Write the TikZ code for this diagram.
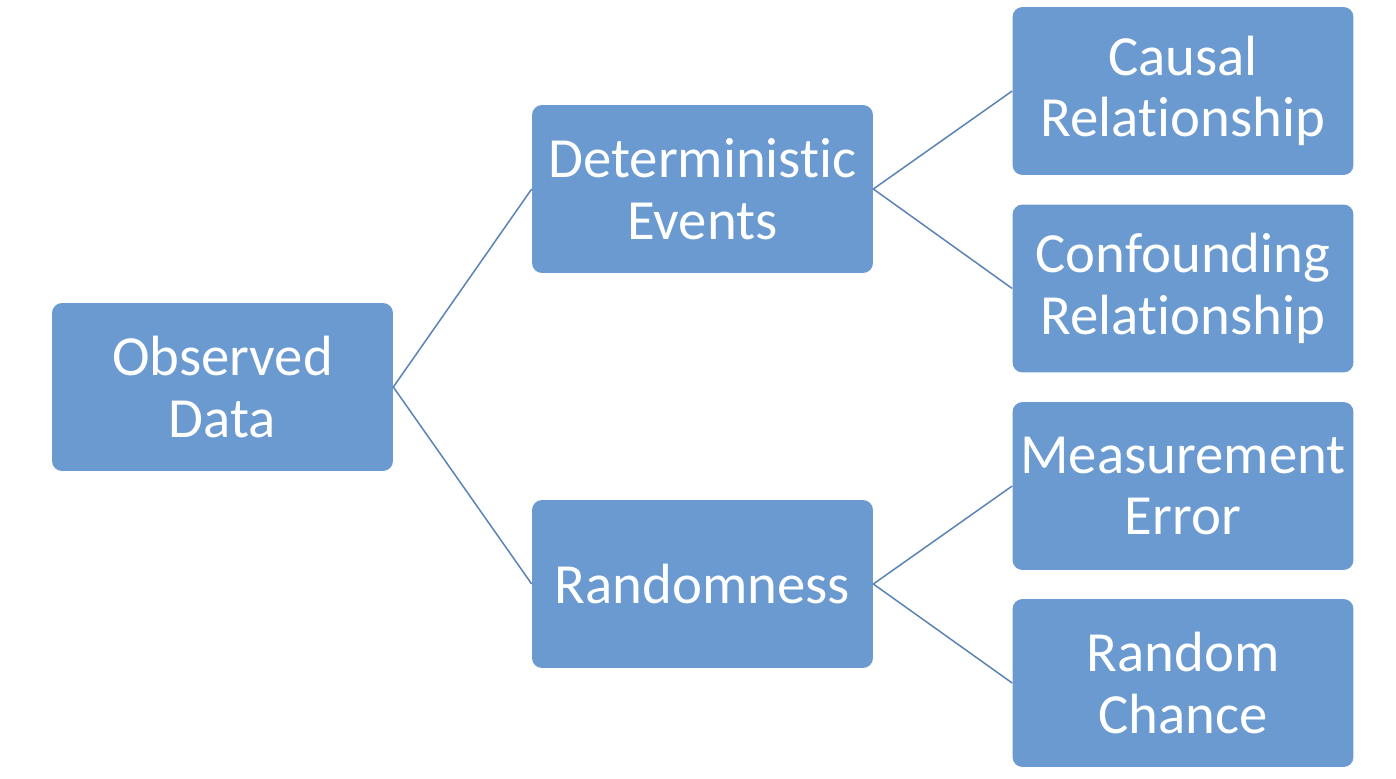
\documentclass[tikz,border=0pt]{standalone}
\usepackage{fontspec}
\setmainfont[RawFeature=-liga]{Carlito}
\definecolor{boxblue}{HTML}{6A9AD0}
\definecolor{lineblue}{HTML}{5A82B4}

\begin{document}
\begin{tikzpicture}[x=0.02cm, y=-0.02cm,
    box/.style={fill=boxblue, text=white, rounded corners=0.2cm, minimum width=6.82cm, minimum height=3.36cm,
    align=center, inner sep=0pt, font=\fontsize{32.3}{35}\selectfont},
    link/.style={draw=lineblue, line width=0.85pt}]

    \useasboundingbox (0,0) rectangle (1396,778);

    \node[box] (observed) at (222.5,387) {Observed\\Data};
    \node[box] (determ) at (702.5,189) {Deterministic\\Events};
    \node[box] (random) at (702.5,584) {Randomness};
    \node[box] (causal) at (1183,91) {Causal\\Relationship};
    \node[box] (confound) at (1183,288.5) {Confounding\\Relationship};
    \node[box] (measure) at (1183,486) {Measurement\\Error};
    \node[box] (chance) at (1183,683) {Random\\Chance};

    \draw[link] (observed.east) -- (determ.west);
    \draw[link] (observed.east) -- (random.west);
    \draw[link] (determ.east) -- (causal.west);
    \draw[link] (determ.east) -- (confound.west);
    \draw[link] (random.east) -- (measure.west);
    \draw[link] (random.east) -- (chance.west);
    %
\end{tikzpicture}
\end{document}
